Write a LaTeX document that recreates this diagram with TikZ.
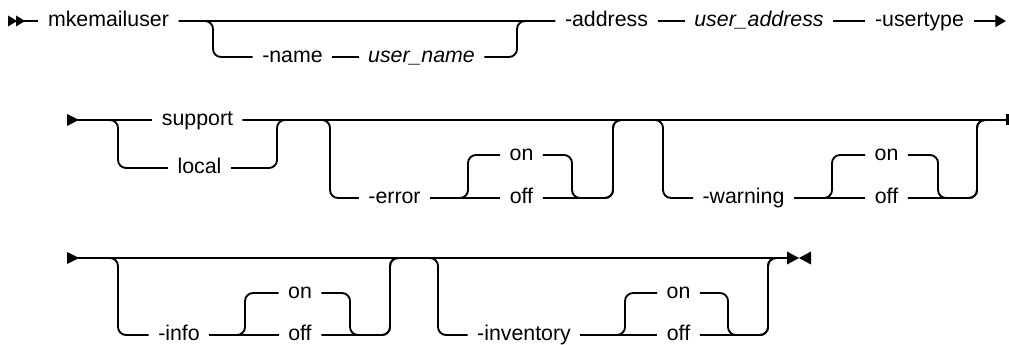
\documentclass[tikz,border=0pt]{standalone}
\usepackage{fontspec}
\setmainfont{Liberation Sans}
\usetikzlibrary{arrows.meta}
\tikzset{
  rail/.style={line width=1.4pt, rounded corners=6pt},
  kw/.style={font=\fontsize{16}{18}\selectfont, inner xsep=7pt, inner ysep=0pt, text height=8.3pt, text depth=0pt, anchor=center},
  var/.style={kw, font=\fontsize{16}{18}\selectfont\itshape},
  tip/.style={fill=black},
}
\begin{document}
\begin{tikzpicture}[x=0.75pt, y=-0.75pt]
\useasboundingbox (0,0) rectangle (1009,345);

% ---------- Row 1 ----------
\fill[tip] (8,15.5) -- (17,21) -- (8,26.5) -- cycle;
\fill[tip] (16,15.5) -- (25,21) -- (16,26.5) -- cycle;
\coordinate (st1) at (24,21);
\node[kw] (mk) at (108.5,21) {mkemailuser};
\node[kw] (name) at (292.5,57) {-name};
\node[var] (uname) at (421.5,57) {user\_name};
\node[kw] (address) at (606.5,21) {-address};
\node[var] (uaddr) at (759,21) {user\_address};
\node[kw] (utype) at (919.5,21) {-usertype};
\coordinate (n1) at (213,57);
\coordinate (n2) at (517,21);
\coordinate (e1) at (1006,21);

\draw[rail] (st1) -- (mk.west);
\draw[rail] (mk.east) -- (address.west);
\draw[rail] (mk.east) -| (n1) -- (name.west);
\draw[rail] (name.east) -- (uname.west);
\draw[rail] (uname.east) -| (n2) -- (address.west);
\draw[rail] (address.east) -- (uaddr.west);
\draw[rail] (uaddr.east) -- (utype.west);
\draw[rail, -{Triangle[length=8pt,width=9pt]}] (utype.east) -- (e1);

% ---------- Row 2 ----------
\fill[tip] (67,114) -- (79,120) -- (67,126) -- cycle;
\coordinate (st2) at (78,120);
\coordinate (e2) at (1006,120);
\node[kw] (support) at (197.5,120) {support};
\node[kw] (local) at (199.5,168) {local};
\node[kw] (err) at (394.5,198) {-error};
\node[kw] (on1) at (521.5,155) {on};
\node[kw] (off1) at (521.5,198) {off};
\node[kw] (warn) at (743.5,198) {-warning};
\node[kw] (on2) at (886.5,155) {on};
\node[kw] (off2) at (886.5,198) {off};
\coordinate (p1) at (118,168);
\coordinate (p2) at (277,120);
\coordinate (p3) at (330,198);
\coordinate (p4) at (468,155);
\coordinate (p5) at (572,198);
\coordinate (p6) at (613,120);
\coordinate (p7) at (663,198);
\coordinate (p8) at (832,155);
\coordinate (p9) at (938,198);
\coordinate (p10) at (977,120);

\draw[rail] (st2) -- (support.west);
\draw[rail] (st2) -| (p1) -- (local.west);
\draw[rail] (local.east) -| (p2) -- (e2);
\draw[rail] (support.east) -- (e2);
% -error
\draw[rail] (support.east) -| (p3) -- (err.west);
\draw[rail] (err.east) -- (off1.west);
\draw[rail] (err.east) -| (p4) -- (on1.west);
\draw[rail] (on1.east) -| (p5) -| (p6) -- (e2);
\draw[rail] (off1.east) -| (p6) -- (e2);
% -warning
\draw[rail] (support.east) -| (p7) -- (warn.west);
\draw[rail] (warn.east) -- (off2.west);
\draw[rail] (warn.east) -| (p8) -- (on2.west);
\draw[rail] (on2.east) -| (p9) -| (p10) -- (e2);
\draw[rail] (off2.east) -| (p10) -- (e2);
\fill[tip] (1005.5,114.5) rectangle (1009,125.5);

% ---------- Row 3 ----------
\fill[tip] (67,252) -- (79,258) -- (67,264) -- cycle;
\coordinate (st3) at (78,258);
\coordinate (e3) at (788,258);
\node[kw] (info) at (179,335) {-info};
\node[kw] (on3) at (300,293) {on};
\node[kw] (off3) at (300,335) {off};
\node[kw] (inv) at (524,335) {-inventory};
\node[kw] (on4) at (678.5,293) {on};
\node[kw] (off4) at (678.5,335) {off};
\coordinate (q1) at (118,335);
\coordinate (q2) at (245,293);
\coordinate (q3) at (350,335);
\coordinate (q4) at (390,258);
\coordinate (q5) at (438,335);
\coordinate (q6) at (625,293);
\coordinate (q7) at (728,335);
\coordinate (q8) at (768,258);

\draw[rail] (st3) -- (e3);
% -info
\draw[rail] (st3) -| (q1) -- (info.west);
\draw[rail] (info.east) -- (off3.west);
\draw[rail] (info.east) -| (q2) -- (on3.west);
\draw[rail] (on3.east) -| (q3) -| (q4) -- (e3);
\draw[rail] (off3.east) -| (q4) -- (e3);
% -inventory
\draw[rail] (st3) -| (q5) -- (inv.west);
\draw[rail] (inv.east) -- (off4.west);
\draw[rail] (inv.east) -| (q6) -- (on4.west);
\draw[rail] (on4.east) -| (q7) -| (q8) -- (e3);
\draw[rail] (off4.east) -| (q8) -- (e3);
% end
\fill[tip] (787,251.5) -- (799,258) -- (787,264.5) -- cycle;
\fill[tip] (811,251.5) -- (799,258) -- (811,264.5) -- cycle;
\end{tikzpicture}
\end{document}
